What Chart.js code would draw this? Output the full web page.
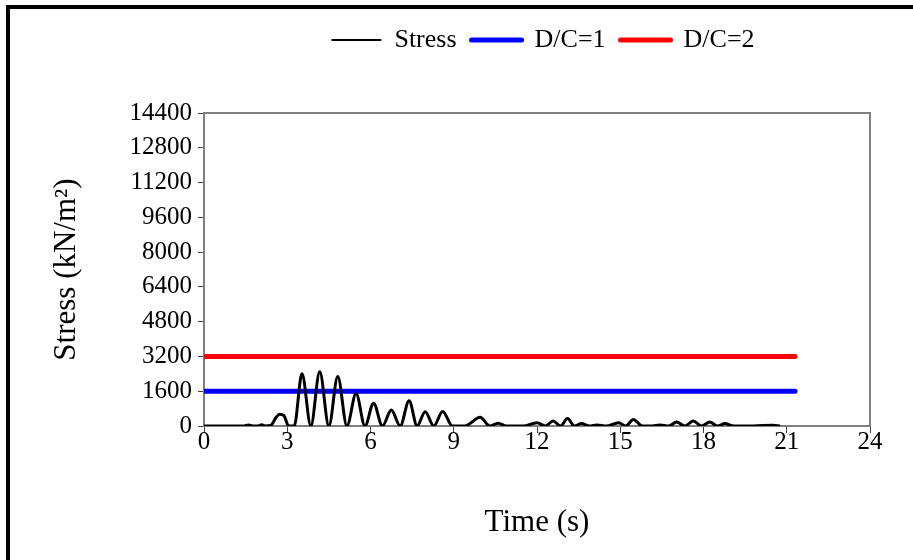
<!DOCTYPE html>
<html>
<head>
<meta charset="utf-8">
<script src="https://cdn.jsdelivr.net/npm/chart.js@4.4.1/dist/chart.umd.min.js"></script>
<style>
  html, body { margin: 0; padding: 0; background: #fff; overflow: hidden; }
  #wrap { position: absolute; left: 0; top: 0; width: 913px; height: 560px; }
  #frame { position: absolute; left: 6px; top: 5px; width: 2000px; height: 2000px;
           border-top: 4px solid #000; border-left: 4px solid #000; pointer-events: none; }
</style>
</head>
<body>
<div id="wrap"><canvas id="c"></canvas></div>
<div id="frame"></div>
<script>
// ---- data ----
const times = [0, 0.5, 1.0, 1.45, 1.6, 1.75, 1.95, 2.08, 2.2, 2.4, 2.6, 2.72, 2.88, 3.05, 3.25, 3.53, 3.85, 4.17, 4.5, 4.82, 5.15, 5.48, 5.8, 6.11, 6.43, 6.75, 7.07, 7.39, 7.68, 7.97, 8.28, 8.6, 8.95, 9.4, 9.95, 10.3, 10.6, 10.9, 11.5, 12.0, 12.3, 12.58, 12.85, 13.1, 13.35, 13.6, 13.9, 14.15, 14.5, 14.94, 15.2, 15.47, 15.8, 16.1, 16.43, 16.75, 17.03, 17.33, 17.63, 17.93, 18.23, 18.5, 18.77, 19.1, 19.8, 20.5, 20.76];
const stress = [0, 0, 0, 0, 50, 0, 0, 60, 0, 20, 400, 540, 480, 0, 0, 2400, 0, 2500, 0, 2280, 0, 1500, 0, 1050, 0, 740, 0, 1160, 0, 660, 0, 670, 0, 0, 400, 0, 130, 0, 0, 150, 0, 230, 0, 340, 0, 110, 0, 50, 0, 150, 0, 300, 0, 0, 50, 0, 180, 0, 230, 0, 180, 0, 110, 0, 0, 40, 0];
const dcTimes = [0, 21.3];
const dc1 = [1600, 1600];
const dc2 = [3200, 3200];
const seriesNames = ["Stress", "D/C=1", "D/C=2"];
const xTickMin = 0, xTickMax = 24, xTickStep = 3;
const yTickMin = 0, yTickMax = 14400, yTickStep = 1600;
const xTitle = "Time (s)";
const yTitle = "Stress (kN/m\u00B2)";

const FONT = "'Liberation Serif', 'Times New Roman', serif";
const toXY = (xs, ys) => xs.map((x, i) => ({x: x, y: ys[i]}));

const plotFrame = {
  id: 'plotFrame',
  afterDatasetsDraw(chart) {
    const a = chart.chartArea, ctx = chart.ctx;
    ctx.save();
    ctx.strokeStyle = '#808080';
    ctx.lineWidth = 2;
    ctx.beginPath();
    ctx.moveTo(a.left, a.top); ctx.lineTo(a.right, a.top); ctx.lineTo(a.right, a.bottom);
    ctx.stroke();
    ctx.restore();
  }
};
const legendTweak = {
  id: 'legendTweak',
  beforeInit(chart) {
    const lg = chart.legend;
    if (!lg) return;
    const fit = lg.fit;
    lg.fit = function () { fit.call(this); this.height = 113; };
  },
  afterLayout(chart) {
    const lg = chart.legend;
    lg.top += 12; lg.bottom += 12;
    const d = 543 - (lg.left + lg.right) / 2;
    lg.left += d; lg.right += d;
  }
};

new Chart(document.getElementById('c'), {
  type: 'line',
  data: {
    datasets: [
      { label: seriesNames[0], data: toXY(times, stress), borderColor: '#000', backgroundColor: '#000',
        borderWidth: 3, pointRadius: 0, cubicInterpolationMode: 'monotone', borderCapStyle: 'butt' },
      { label: seriesNames[1], data: toXY(dcTimes, dc1), borderColor: '#0000FF', backgroundColor: '#0000FF',
        borderWidth: 5, pointRadius: 0, borderCapStyle: 'round' },
      { label: seriesNames[2], data: toXY(dcTimes, dc2), borderColor: '#FF0000', backgroundColor: '#FF0000',
        borderWidth: 5, pointRadius: 0, borderCapStyle: 'round' }
    ]
  },
  options: {
    responsive: true, maintainAspectRatio: false, animation: false, devicePixelRatio: 1,
    layout: { padding: { left: 38, right: 43, top: 0, bottom: 0 } },
    plugins: {
      tooltip: { enabled: false },
      legend: {
        display: true, position: 'top', align: 'center',
        labels: {
          font: { family: FONT, size: 26 }, color: '#000',
          usePointStyle: true, pointStyle: 'line', pointStyleWidth: 50, boxHeight: 26, padding: 15,
          generateLabels(chart) {
            const items = Chart.defaults.plugins.legend.labels.generateLabels(chart);
            items.forEach((it, i) => { it.pointStyle = 'line'; it.lineWidth = i === 0 ? 2 : 5; it.lineCap = i === 0 ? 'butt' : 'round'; });
            return items;
          }
        }
      }
    },
    scales: {
      x: {
        type: 'linear', min: xTickMin, max: xTickMax,
        ticks: { stepSize: xTickStep, color: '#000', font: { family: FONT, size: 25 }, padding: -6, maxRotation: 0,
                 callback: (v) => String(v) },
        grid: { drawOnChartArea: false, drawTicks: true, tickLength: 7, tickColor: '#404040', tickWidth: 1 },
        border: { display: true, color: '#808080', width: 2 },
        title: { display: true, text: xTitle, color: '#000', font: { family: FONT, size: 31, lineHeight: 1.2 }, padding: { top: 0, bottom: 19 } },
        afterFit(s) { s.height = 134; }
      },
      y: {
        type: 'linear', min: yTickMin, max: yTickMax,
        ticks: { stepSize: yTickStep, color: '#000', font: { family: FONT, size: 25 }, padding: 6,
                 callback: (v) => String(v) },
        grid: { drawOnChartArea: false, drawTicks: true, tickLength: 6, tickColor: '#404040', tickWidth: 1 },
        border: { display: true, color: '#808080', width: 2 },
        title: { display: true, text: yTitle, color: '#000', font: { family: FONT, size: 31, lineHeight: 1.2 }, padding: { top: 10, bottom: 0 } },
        afterFit(s) { s.width = 204 - 38; }
      }
    }
  },
  plugins: [plotFrame, legendTweak]
});
</script>
</body>
</html>
